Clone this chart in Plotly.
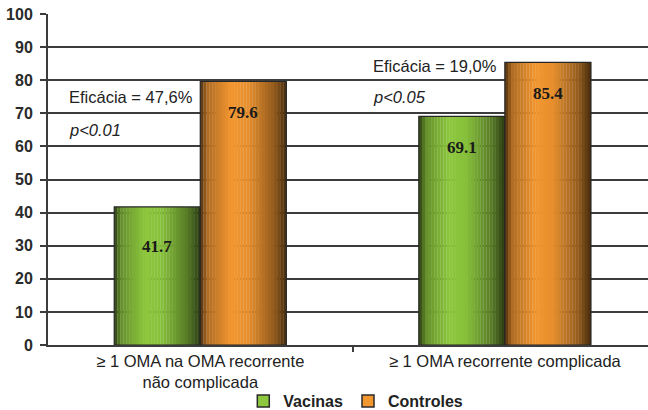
import plotly.graph_objects as go

# Data
categories = ["≥ 1 OMA na OMA recorrente<br>não complicada", "≥ 1 OMA recorrente complicada"]
vacinas = [41.7, 69.1]
controles = [79.6, 85.4]
eficacia = ["Eficácia = 47,6%", "Eficácia = 19,0%"]
p_values = ["p<0.01", "p<0.05"]
y_ticks = [0, 10, 20, 30, 40, 50, 60, 70, 80, 90, 100]

x_pos = list(range(len(categories)))
BAR_W = 0.2825
N_SLICES = 28

GREEN = (141, 200, 62)
ORANGE = (242, 150, 48)
EDGE = "#262626"
SANS = "Liberation Sans, Arial, sans-serif"


def shade(t):
    """Brightness profile across a bar (cylinder-like shading)."""
    stops = [(0.0, 0.32), (0.08, 0.72), (0.35, 1.0), (0.55, 0.96), (0.85, 0.62), (1.0, 0.3)]
    for (t0, v0), (t1, v1) in zip(stops, stops[1:]):
        if t <= t1:
            return v0 + (v1 - v0) * (t - t0) / (t1 - t0)
    return stops[-1][1]


def rgb(base, k):
    return "rgb(%d,%d,%d)" % tuple(max(0, min(255, int(c * k))) for c in base)


fig = go.Figure()


def add_series(values, base, start_offset):
    sw = BAR_W / N_SLICES
    for i in range(N_SLICES):
        t = (i + 0.5) / N_SLICES
        fig.add_trace(go.Bar(
            x=x_pos, y=values, width=sw * 1.08, offset=start_offset + i * sw,
            marker=dict(color=rgb(base, shade(t)), line=dict(width=0)),
            showlegend=False, hoverinfo="skip",
        ))
    # outline
    fig.add_trace(go.Bar(
        x=x_pos, y=values, width=BAR_W, offset=start_offset,
        marker=dict(color="rgba(0,0,0,0)", line=dict(color=EDGE, width=1.2)),
        showlegend=False, hoverinfo="skip",
    ))


add_series(vacinas, GREEN, -BAR_W)
add_series(controles, ORANGE, 0.0)

# Legend entries
for name, base in [("Vacinas", GREEN), ("Controles", ORANGE)]:
    fig.add_trace(go.Scatter(
        x=[None], y=[None], mode="markers", name="<b>%s</b>" % name,
        marker=dict(symbol="square", size=12, color=rgb(base, 1.0),
                    line=dict(color="#2a2a2a", width=1.5)),
    ))

annotations = []
# Value labels inside the bars
label_shift = {(0, 0): -40}
for s, (vals, off) in enumerate([(vacinas, -BAR_W / 2), (controles, BAR_W / 2)]):
    for j, v in enumerate(vals):
        annotations.append(dict(
            x=x_pos[j] + off, y=v, text="<b>%.1f</b>" % v, showarrow=False,
            yshift=label_shift.get((s, j), -31),
            font=dict(family="Liberation Serif, Times New Roman, serif", size=17, color="#1a1a1a"),
        ))

# Efficacy and p-value notes
eff_pos = [(-0.437, 74.9), (0.561, 84.3)]
p_pos = [(-0.437, 65.0), (0.561, 74.9)]
for j in range(len(categories)):
    annotations.append(dict(
        x=eff_pos[j][0], y=eff_pos[j][1], text=eficacia[j], showarrow=False,
        xanchor="left", bgcolor="white", borderpad=1,
        font=dict(family=SANS, size=16.5, color="#222"),
    ))
    annotations.append(dict(
        x=p_pos[j][0], y=p_pos[j][1], text="<i>%s</i>" % p_values[j], showarrow=False,
        xanchor="left", bgcolor="white", borderpad=1,
        font=dict(family=SANS, size=16.5, color="#222"),
    ))

fig.update_layout(
    width=648, height=410,
    margin=dict(l=48, r=0, t=14, b=65, autoexpand=False),
    paper_bgcolor="white", plot_bgcolor="white",
    barmode="overlay",
    showlegend=True,
    legend=dict(orientation="h", x=0.513, xanchor="center", yref="container", y=0.022, yanchor="middle",
                bgcolor="rgba(0,0,0,0)",
                font=dict(family=SANS, size=16, color="#222"),
                itemwidth=30, tracegroupgap=0),
    annotations=annotations,
    font=dict(family=SANS),
)

fig.update_yaxes(
    range=[0, 100], tickvals=y_ticks, showgrid=True, gridcolor="#3c3c3c", gridwidth=2,
    ticks="outside", ticklen=6, tickwidth=2, tickcolor="#3c3c3c",
    showline=True, linecolor="#3c3c3c", linewidth=2,
    tickfont=dict(family=SANS, size=16, color="#2a2a2a", weight="bold"),
    ticklabelstandoff=4,
    zeroline=False, automargin=False,
)

fig.update_xaxes(
    range=[-0.5, 1.47], tickmode="array", tickvals=x_pos, ticktext=categories,
    ticks="", showgrid=False, showline=True, linecolor="#3c3c3c", linewidth=2,
    tickfont=dict(family=SANS, size=16.5, color="#222"),
    minor=dict(tickvals=[0.5], ticks="outside", ticklen=5, tickwidth=1.5, tickcolor="#3c3c3c", showgrid=False),
    zeroline=False, automargin=False,
)

fig.write_html("out.html")
